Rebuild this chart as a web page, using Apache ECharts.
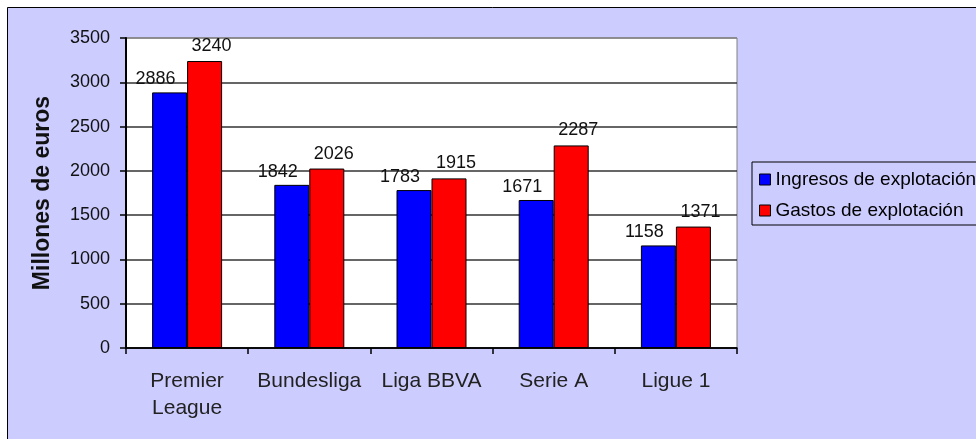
<!DOCTYPE html>
<html>
<head>
<meta charset="utf-8">
<title>Ingresos y gastos de explotación</title>
<script src="https://cdn.jsdelivr.net/npm/echarts@6/dist/echarts.min.js"></script>
<style>
  html, body { margin: 0; padding: 0; background: #fff; overflow: hidden; }
  #chart { width: 976px; height: 439px; }
</style>
</head>
<body>
<div id="chart"></div>
<script>
// ligas y valores (millones de euros)
var ligas = ["Premier\nLeague", "Bundesliga", "Liga BBVA", "Serie A", "Ligue 1"];
var ingresos = [2886, 1842, 1783, 1671, 1158];
var gastos = [3240, 2026, 1915, 2287, 1371];
var serieNombres = ["Ingresos de explotación", "Gastos de explotación"];

var fuente = "Liberation Sans, Arial, sans-serif";

var chart = echarts.init(document.getElementById("chart"));
chart.setOption({
  animation: false,
  backgroundColor: "#fff",
  textStyle: { fontFamily: fuente },
  // marco lavanda del gráfico
  graphic: [{
    type: "rect",
    z: -10,
    shape: { x: 7.5, y: 7.5, width: 1200, height: 1200 },
    style: { fill: "#ccccff", stroke: "#000", lineWidth: 1 }
  }],
  grid: {
    left: 126,
    right: 239,
    top: 38,
    bottom: 91,
    show: true,
    backgroundColor: "#fff",
    borderColor: "#808080",
    borderWidth: 1
  },
  legend: {
    orient: "vertical",
    left: 752,
    top: 162,
    padding: [8, 60, 5, 7],
    itemGap: 12,
    itemWidth: 11,
    itemHeight: 11,
    icon: "rect",
    backgroundColor: "#ccccff",
    borderColor: "#000",
    borderWidth: 1,
    textStyle: { fontSize: 19, color: "#000", fontFamily: fuente },
    data: serieNombres.map(function (n) {
      return { name: n, itemStyle: { borderColor: "#000", borderWidth: 1 } };
    })
  },
  xAxis: {
    type: "category",
    data: ligas,
    axisLine: { lineStyle: { color: "#000", width: 1.5 } },
    axisTick: { show: true, length: 6, lineStyle: { color: "#000", width: 1.5 } },
    axisLabel: {
      interval: 0,
      margin: 20,
      fontSize: 21,
      lineHeight: 27,
      color: "#222",
      fontFamily: fuente
    }
  },
  yAxis: {
    type: "value",
    min: 0,
    max: 3500,
    interval: 500,
    name: "Millones de euros",
    nameLocation: "middle",
    nameGap: 72,
    nameTextStyle: { fontSize: 23, fontWeight: "bold", color: "#111", fontFamily: fuente },
    axisLine: { show: true, lineStyle: { color: "#000", width: 2 } },
    axisTick: { show: true, length: 6, lineStyle: { color: "#000", width: 1.5 } },
    axisLabel: {
      margin: 16,
      fontSize: 18,
      color: "#111",
      fontFamily: fuente,
      formatter: function (v) { return String(v); }
    },
    splitLine: {
      lineStyle: {
        color: ["#000", "#333", "#333", "#333", "#333", "#333", "#333", "#808080"],
        width: 1.5
      }
    }
  },
  series: [
    {
      name: serieNombres[0],
      type: "bar",
      data: ingresos,
      barWidth: 35,
      barGap: "0%",
      itemStyle: { color: "#0000ff", borderColor: "#000", borderWidth: 1 },
      label: {
        show: true,
        position: "top",
        distance: 4,
        offset: [-14, 0],
        fontSize: 18,
        color: "#111",
        fontFamily: fuente
      }
    },
    {
      name: serieNombres[1],
      type: "bar",
      data: gastos,
      barWidth: 35,
      itemStyle: { color: "#ff0000", borderColor: "#000", borderWidth: 1 },
      label: {
        show: true,
        position: "top",
        distance: 6,
        offset: [7, 0],
        fontSize: 18,
        color: "#111",
        fontFamily: fuente
      }
    }
  ]
});
</script>
</body>
</html>
